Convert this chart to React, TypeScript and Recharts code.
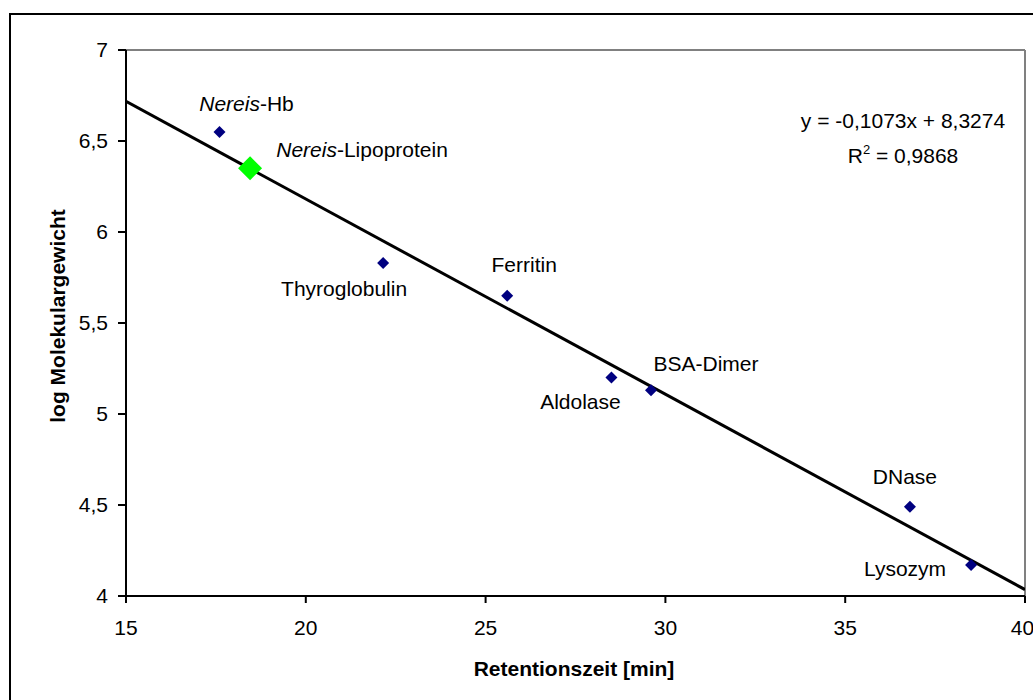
import React from "react"
import { ScatterChart, Scatter, XAxis, YAxis, ReferenceLine } from "recharts"

// standard proteins (calibration)
const standardNames = ["Nereis-Hb", "Thyroglobulin", "Ferritin", "Aldolase", "BSA-Dimer", "DNase", "Lysozym"]
const standardRetention = [17.6, 22.15, 25.6, 28.5, 29.6, 36.8, 38.5]
const standardLogMw = [6.55, 5.83, 5.65, 5.2, 5.13, 4.49, 4.17]

// unknown sample
const sampleNames = ["Nereis-Lipoprotein"]
const sampleRetention = [18.45]
const sampleLogMw = [6.35]

// linear fit shown on the chart
const trendSlope = -0.1073
const trendIntercept = 8.3274
const trendRange = [15, 40]

const xTicks = [15, 20, 25, 30, 35, 40]
const yTicks = [4, 4.5, 5, 5.5, 6, 6.5, 7]

const FONT = "'Liberation Sans', Arial, sans-serif"
const NAVY = "#000080"
const GREEN = "#00ff00"

// label offsets from the marker (text anchored in the middle, baseline)
const labelOffset: Record<string, { dx: number; dy: number }> = {
  "Nereis-Hb": { dx: 27, dy: -21 },
  "Nereis-Lipoprotein": { dx: 112, dy: -11 },
  Thyroglobulin: { dx: -39, dy: 33 },
  Ferritin: { dx: 17, dy: -24 },
  Aldolase: { dx: -31, dy: 31 },
  "BSA-Dimer": { dx: 55, dy: -19 },
  DNase: { dx: -5, dy: -23 },
  Lysozym: { dx: -66, dy: 11 },
}

const standards = standardNames.map((name, i) => ({ name, x: standardRetention[i], y: standardLogMw[i] }))
const samples = sampleNames.map((name, i) => ({ name, x: sampleRetention[i], y: sampleLogMw[i] }))
const trend = trendRange.map((x) => ({ x, y: trendSlope * x + trendIntercept }))

const fmt = (v: number) => String(v).replace(".", ",")

function PointLabel({ name, cx, cy }: { name: string; cx: number; cy: number }) {
  const off = labelOffset[name] || { dx: 0, dy: -15 }
  const italic = name.startsWith("Nereis")
  return (
    <text x={cx + off.dx} y={cy + off.dy} textAnchor="middle" fontSize={21} fontFamily={FONT} fill="#000">
      {italic ? (
        <>
          <tspan fontStyle="italic">Nereis</tspan>
          <tspan>{name.slice(6)}</tspan>
        </>
      ) : (
        name
      )}
    </text>
  )
}

const diamond = (color: string, r: number) => (props: any) => {
  const { cx, cy, payload } = props
  return (
    <g>
      <polygon points={`${cx},${cy - r} ${cx + r},${cy} ${cx},${cy + r} ${cx - r},${cy}`} fill={color} />
      <PointLabel name={payload.name} cx={cx} cy={cy} />
    </g>
  )
}

export default function App() {
  return (
    <div style={{ position: "absolute", left: 0, top: 0, width: 1033, height: 700, overflow: "hidden", background: "#fff" }}>
      <ScatterChart width={1033} height={700} margin={{ top: 50, right: 8, left: 66, bottom: 64 }}>
        <XAxis
          type="number"
          dataKey="x"
          domain={[15, 40]}
          ticks={xTicks}
          allowDataOverflow
          height={40}
          tickSize={7}
          tickMargin={17}
          axisLine={{ stroke: "#000", strokeWidth: 2 }}
          tickLine={{ stroke: "#000", strokeWidth: 2 }}
          tick={{ fill: "#000", fontSize: 21, fontFamily: FONT }}
        />
        <YAxis
          type="number"
          dataKey="y"
          domain={[4, 7]}
          ticks={yTicks}
          allowDataOverflow
          width={60}
          tickSize={8}
          tickMargin={10}
          tickFormatter={fmt}
          axisLine={{ stroke: "#000", strokeWidth: 2 }}
          tickLine={{ stroke: "#000", strokeWidth: 2 }}
          tick={{ fill: "#000", fontSize: 21, fontFamily: FONT }}
        />
        <ReferenceLine y={7} stroke="#808080" strokeWidth={2} />
        <ReferenceLine x={40} stroke="#808080" strokeWidth={2} />
        <Scatter
          data={trend}
          line={{ stroke: "#000", strokeWidth: 3 }}
          shape={() => <g />}
          isAnimationActive={false}
        />
        <Scatter data={samples} shape={diamond(GREEN, 12)} isAnimationActive={false} />
        <Scatter data={standards} shape={diamond(NAVY, 6)} isAnimationActive={false} />
      </ScatterChart>
      <svg width={1033} height={700} style={{ position: "absolute", left: 0, top: 0, pointerEvents: "none" }}>
        <rect x={10} y={14} width={1040} height={720} fill="none" stroke="#000" strokeWidth={2} />
        <text x={903} y={128} textAnchor="middle" fontSize={21} fontFamily={FONT} fill="#000">
          y = -0,1073x + 8,3274
        </text>
        <text x={903} y={163} textAnchor="middle" fontSize={21} fontFamily={FONT} fill="#000">
          R<tspan dy={-9} fontSize={13}>2</tspan>
          <tspan dy={9}> = 0,9868</tspan>
        </text>
        <text
          x={0}
          y={0}
          transform="translate(57,316) rotate(-90)"
          textAnchor="middle"
          dominantBaseline="central"
          fontSize={21}
          fontWeight="bold"
          fontFamily={FONT}
          fill="#000"
        >
          log Molekulargewicht
        </text>
        <text x={574} y={676} textAnchor="middle" fontSize={21} fontWeight="bold" fontFamily={FONT} fill="#000">
          Retentionszeit [min]
        </text>
      </svg>
    </div>
  )
}
